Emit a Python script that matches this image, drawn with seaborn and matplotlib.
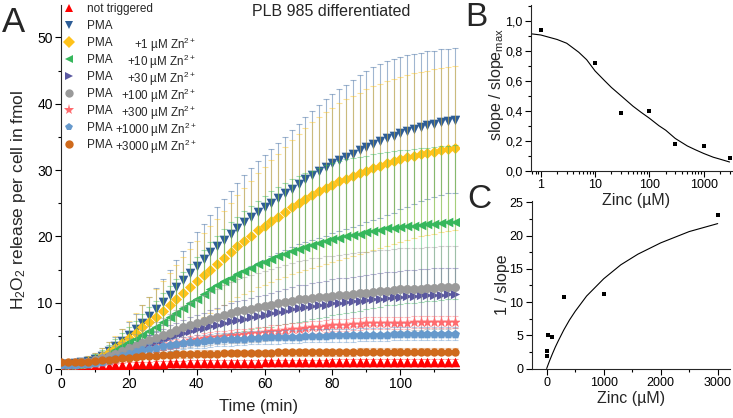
import numpy as np
import pandas as pd
import matplotlib
matplotlib.use("Agg")
import matplotlib.pyplot as plt
import seaborn as sns
from matplotlib.lines import Line2D
from matplotlib.ticker import MultipleLocator, FixedLocator, FuncFormatter, NullFormatter, LogLocator

# ---------------- panel A: H2O2 release per cell (fmol), read every 2 min ----------------
time_min = np.arange(0, 117, 2)

not_trig = [0.30, 0.30, 0.30, 0.32, 0.35, 0.40, 0.45, 0.50, 0.55, 0.60,
            0.65, 0.70, 0.74, 0.77, 0.80, 0.82, 0.84, 0.86, 0.88, 0.90,
            0.91, 0.92, 0.93, 0.94, 0.95, 0.96, 0.97, 0.97, 0.98, 0.98,
            0.99, 0.99, 1.00, 1.00, 1.01, 1.01, 1.02, 1.02, 1.03, 1.03,
            1.04, 1.04, 1.05, 1.05, 1.05, 1.06, 1.06, 1.06, 1.07, 1.07,
            1.07, 1.08, 1.08, 1.08, 1.09, 1.09, 1.09, 1.10, 1.10]
not_trig_err = [0.30, 0.30, 0.30, 0.30, 0.30, 0.30, 0.30, 0.30, 0.30, 0.35,
                0.35, 0.35, 0.35, 0.35, 0.40, 0.40, 0.40, 0.40, 0.40, 0.40,
                0.40, 0.40, 0.40, 0.40, 0.40, 0.40, 0.40, 0.40, 0.40, 0.40,
                0.40, 0.40, 0.40, 0.40, 0.40, 0.40, 0.40, 0.40, 0.40, 0.40,
                0.40, 0.40, 0.40, 0.40, 0.40, 0.40, 0.40, 0.40, 0.40, 0.40,
                0.40, 0.40, 0.40, 0.40, 0.40, 0.40, 0.40, 0.40, 0.40]

pma = [0.80, 0.80, 0.90, 1.00, 1.20, 1.50, 2.00, 2.70, 3.40, 4.20,
       5.10, 6.00, 7.00, 8.00, 9.00, 10.1, 11.2, 12.3, 13.4, 14.5,
       15.6, 16.6, 17.6, 18.6, 19.5, 20.4, 21.3, 22.1, 22.9, 23.7,
       24.4, 25.1, 25.8, 26.5, 27.2, 27.9, 28.6, 29.2, 29.8, 30.4,
       31.0, 31.5, 32.0, 32.5, 33.0, 33.5, 34.0, 34.4, 34.8, 35.2,
       35.6, 35.9, 36.2, 36.5, 36.8, 37.0, 37.2, 37.4, 37.5]
pma_err = [0.6, 0.6, 0.6, 0.7, 0.8, 0.9, 1.1, 1.3, 1.5, 1.8,
           2.0, 2.3, 2.6, 2.9, 3.2, 3.5, 3.8, 4.1, 4.4, 4.7,
           5.0, 5.3, 5.6, 5.9, 6.2, 6.5, 6.8, 7.1, 7.4, 7.7,
           7.9, 8.1, 8.3, 8.5, 8.8, 9.1, 9.4, 9.7, 10.0, 10.3,
           10.5, 10.7, 10.9, 11.1, 11.3, 11.4, 11.5, 11.6, 11.6, 11.6,
           11.5, 11.4, 11.3, 11.2, 11.1, 11.0, 11.0, 10.9, 10.9]

zn1 = [0.70, 0.70, 0.80, 0.90, 1.10, 1.40, 1.90, 2.50, 3.20, 3.90,
       4.70, 5.50, 6.30, 7.10, 7.90, 8.80, 9.70, 10.6, 11.5, 12.4,
       13.3, 14.2, 15.0, 15.8, 16.7, 17.6, 18.5, 19.3, 20.1, 20.9,
       21.6, 22.3, 23.0, 23.7, 24.4, 25.0, 25.6, 26.2, 26.8, 27.3,
       27.8, 28.3, 28.7, 29.1, 29.5, 29.9, 30.3, 30.6, 31.0, 31.3,
       31.6, 31.9, 32.2, 32.4, 32.6, 32.8, 33.0, 33.2, 33.3]
zn1_err = [0.5, 0.5, 0.6, 0.7, 0.8, 1.0, 1.2, 1.5, 1.8, 2.2,
           2.6, 3.0, 3.4, 3.8, 4.2, 4.5, 4.8, 5.1, 5.4, 5.7,
           6.0, 6.3, 6.6, 6.8, 7.1, 7.4, 7.7, 8.0, 8.3, 8.6,
           8.9, 9.2, 9.5, 9.8, 10.1, 10.4, 10.7, 11.0, 11.2, 11.4,
           11.6, 11.8, 12.0, 12.1, 12.2, 12.3, 12.4, 12.4, 12.4, 12.4,
           12.4, 12.4, 12.4, 12.4, 12.4, 12.4, 12.4, 12.4, 12.4]

zn10 = [0.60, 0.60, 0.70, 0.80, 1.00, 1.30, 1.70, 2.20, 2.80, 3.40,
        4.00, 4.60, 5.20, 5.80, 6.40, 7.10, 7.80, 8.50, 9.20, 9.90,
        10.6, 11.3, 12.0, 12.6, 13.2, 13.8, 14.3, 14.8, 15.3, 15.8,
        16.2, 16.6, 17.0, 17.4, 17.8, 18.1, 18.4, 18.7, 19.0, 19.3,
        19.6, 19.8, 20.0, 20.2, 20.4, 20.6, 20.8, 21.0, 21.2, 21.3,
        21.4, 21.5, 21.6, 21.7, 21.8, 21.9, 22.0, 22.1, 22.2]
zn10_err = [0.4, 0.4, 0.5, 0.6, 0.7, 0.9, 1.1, 1.4, 1.7, 2.0,
            2.3, 2.7, 3.1, 3.5, 3.9, 4.3, 4.7, 5.1, 5.5, 5.9,
            6.3, 6.7, 7.1, 7.5, 7.9, 8.3, 8.7, 9.0, 9.3, 9.6,
            9.9, 10.2, 10.4, 10.6, 10.8, 11.0, 11.1, 11.2, 11.3, 11.4,
            11.5, 11.5, 11.6, 11.6, 11.6, 11.6, 11.6, 11.6, 11.6, 11.6,
            11.6, 11.6, 11.6, 11.6, 11.6, 11.6, 11.6, 11.6, 11.6]

zn30 = [0.80, 0.80, 0.80, 0.90, 1.00, 1.20, 1.40, 1.70, 2.00, 2.30,
        2.70, 3.00, 3.40, 3.70, 4.10, 4.40, 4.80, 5.10, 5.40, 5.70,
        6.00, 6.20, 6.50, 6.70, 7.00, 7.20, 7.40, 7.60, 7.80, 8.00,
        8.20, 8.40, 8.60, 8.80, 9.00, 9.20, 9.30, 9.50, 9.60, 9.70,
        9.90, 10.0, 10.1, 10.2, 10.3, 10.4, 10.5, 10.6, 10.7, 10.8,
        10.9, 11.0, 11.0, 11.1, 11.1, 11.2, 11.2, 11.3, 11.3]
zn30_err = [0.3, 0.3, 0.3, 0.3, 0.4, 0.4, 0.5, 0.6, 0.7, 0.8,
            1.0, 1.1, 1.2, 1.4, 1.5, 1.6, 1.8, 1.9, 2.0, 2.1,
            2.2, 2.3, 2.4, 2.5, 2.6, 2.7, 2.8, 2.8, 2.9, 3.0,
            3.0, 3.1, 3.2, 3.3, 3.3, 3.4, 3.4, 3.5, 3.5, 3.6,
            3.6, 3.7, 3.7, 3.7, 3.8, 3.8, 3.8, 3.9, 3.9, 3.9,
            3.9, 4.0, 4.0, 4.0, 4.0, 4.0, 4.0, 4.0, 4.0]

zn100 = [0.90, 0.90, 0.90, 1.00, 1.10, 1.30, 1.60, 1.90, 2.30, 2.70,
         3.10, 3.50, 3.90, 4.30, 4.70, 5.10, 5.50, 5.90, 6.30, 6.70,
         7.00, 7.30, 7.60, 7.90, 8.20, 8.50, 8.70, 8.90, 9.10, 9.30,
         9.50, 9.70, 9.90, 10.1, 10.3, 10.5, 10.6, 10.7, 10.8, 10.9,
         11.0, 11.1, 11.2, 11.3, 11.4, 11.5, 11.6, 11.7, 11.8, 11.9,
         12.0, 12.0, 12.1, 12.1, 12.2, 12.2, 12.3, 12.3, 12.4]
zn100_err = [0.5, 0.5, 0.5, 0.6, 0.6, 0.7, 0.9, 1.0, 1.2, 1.4,
             1.6, 1.8, 2.0, 2.2, 2.4, 2.6, 2.8, 3.0, 3.2, 3.4,
             3.6, 3.8, 4.0, 4.2, 4.4, 4.6, 4.8, 5.0, 5.1, 5.2,
             5.3, 5.4, 5.5, 5.6, 5.7, 5.8, 5.9, 6.0, 6.0, 6.1,
             6.1, 6.1, 6.2, 6.2, 6.2, 6.2, 6.2, 6.2, 6.2, 6.2,
             6.2, 6.2, 6.2, 6.2, 6.2, 6.2, 6.2, 6.2, 6.2]

zn300 = [0.70, 0.70, 0.70, 0.70, 0.80, 0.90, 1.00, 1.20, 1.40, 1.70,
         2.00, 2.30, 2.60, 2.90, 3.20, 3.50, 3.70, 3.90, 4.10, 4.30,
         4.50, 4.70, 4.80, 4.90, 5.00, 5.10, 5.20, 5.30, 5.40, 5.50,
         5.60, 5.70, 5.80, 5.90, 6.00, 6.10, 6.20, 6.30, 6.40, 6.50,
         6.60, 6.70, 6.70, 6.80, 6.80, 6.90, 6.90, 6.90, 7.00, 7.00,
         7.00, 7.00, 7.10, 7.10, 7.10, 7.10, 7.10, 7.10, 7.10]
zn300_err = [0.3, 0.3, 0.3, 0.3, 0.3, 0.3, 0.4, 0.4, 0.4, 0.5,
             0.5, 0.5, 0.6, 0.6, 0.6, 0.6, 0.7, 0.7, 0.7, 0.7,
             0.7, 0.8, 0.8, 0.8, 0.8, 0.8, 0.8, 0.8, 0.8, 0.8,
             0.8, 0.9, 0.9, 0.9, 0.9, 0.9, 0.9, 0.9, 0.9, 0.9,
             0.9, 0.9, 0.9, 0.9, 0.9, 0.9, 0.9, 0.9, 0.9, 0.9,
             0.9, 0.9, 0.9, 0.9, 0.9, 0.9, 0.9, 0.9, 0.9]

zn1000 = [0.60, 0.60, 0.60, 0.70, 0.80, 0.90, 1.10, 1.30, 1.60, 1.90,
          2.20, 2.50, 2.80, 3.00, 3.20, 3.40, 3.60, 3.80, 3.90, 4.00,
          4.10, 4.20, 4.30, 4.40, 4.50, 4.50, 4.60, 4.60, 4.70, 4.70,
          4.80, 4.80, 4.80, 4.90, 4.90, 4.90, 5.00, 5.00, 5.00, 5.00,
          5.10, 5.10, 5.10, 5.10, 5.20, 5.20, 5.20, 5.20, 5.20, 5.30,
          5.30, 5.30, 5.30, 5.30, 5.30, 5.30, 5.30, 5.30, 5.30]
zn1000_err = [0.3, 0.3, 0.3, 0.3, 0.3, 0.4, 0.4, 0.5, 0.5, 0.6,
              0.6, 0.7, 0.7, 0.8, 0.8, 0.8, 0.9, 0.9, 0.9, 0.9,
              1.0, 1.0, 1.0, 1.0, 1.0, 1.0, 1.0, 1.0, 1.0, 1.0,
              1.0, 1.0, 1.0, 1.0, 1.0, 1.0, 1.0, 1.0, 1.0, 1.0,
              1.0, 1.0, 1.0, 1.0, 1.0, 1.0, 1.0, 1.0, 1.0, 1.0,
              1.0, 1.0, 1.0, 1.0, 1.0, 1.0, 1.0, 1.0, 1.0]

zn3000 = [1.00, 1.00, 1.00, 1.00, 1.10, 1.20, 1.30, 1.40, 1.50, 1.60,
          1.70, 1.80, 1.90, 2.00, 2.00, 2.10, 2.10, 2.20, 2.20, 2.20,
          2.30, 2.30, 2.30, 2.30, 2.40, 2.40, 2.40, 2.40, 2.40, 2.40,
          2.40, 2.40, 2.50, 2.50, 2.50, 2.50, 2.50, 2.50, 2.50, 2.50,
          2.50, 2.50, 2.50, 2.50, 2.60, 2.60, 2.60, 2.60, 2.60, 2.60,
          2.60, 2.60, 2.60, 2.60, 2.60, 2.60, 2.60, 2.60, 2.60]
zn3000_err = [0.4, 0.4, 0.4, 0.4, 0.4, 0.4, 0.4, 0.4, 0.4, 0.4,
              0.4, 0.4, 0.4, 0.4, 0.5, 0.5, 0.5, 0.5, 0.5, 0.5,
              0.5, 0.5, 0.5, 0.5, 0.5, 0.5, 0.5, 0.5, 0.5, 0.5,
              0.5, 0.5, 0.5, 0.5, 0.5, 0.5, 0.5, 0.5, 0.5, 0.5,
              0.5, 0.5, 0.5, 0.5, 0.5, 0.5, 0.5, 0.5, 0.5, 0.5,
              0.5, 0.5, 0.5, 0.5, 0.5, 0.5, 0.5, 0.5, 0.5]

legend_names = ["not triggered", "PMA", "PMA", "PMA", "PMA", "PMA", "PMA", "PMA", "PMA"]
zinc_added = ["+1", "+10", "+30", "+100", "+300", "+1000", "+3000"]

# ---------------- panels B and C ----------------
zinc_um = [1, 10, 30, 100, 300, 1000, 3000]
rel_slope = [0.94, 0.72, 0.385, 0.395, 0.177, 0.165, 0.082]
inv_slope = [1.95, 2.6, 5.0, 4.8, 10.7, 11.2, 23.1]

fit_b_x = [0.66, 1, 2, 3, 5, 7, 10, 15, 20, 30, 50, 70, 100, 150, 200, 300, 500, 700, 1000, 1500, 2000, 3000]
fit_b_y = [0.913, 0.905, 0.875, 0.85, 0.79, 0.74, 0.665, 0.60, 0.555, 0.50, 0.43, 0.39, 0.35, 0.30, 0.27,
           0.215, 0.165, 0.14, 0.115, 0.09, 0.077, 0.058]
fit_c_x = [0, 25, 50, 100, 150, 200, 300, 400, 500, 700, 1000, 1300, 1600, 2000, 2500, 3000]
fit_c_y = [0, 0.58, 1.15, 2.2, 3.2, 4.1, 5.8, 7.3, 8.6, 10.9, 13.5, 15.6, 17.2, 18.9, 20.6, 21.8]

# ---------------- style ----------------
sns.set_theme(style="ticks")
plt.rcParams["font.family"] = ["Liberation Sans", "DejaVu Sans"]
plt.rcParams["mathtext.fontset"] = "custom"
plt.rcParams["mathtext.rm"] = "Liberation Sans"
plt.rcParams["mathtext.it"] = "Liberation Sans:italic"
plt.rcParams["mathtext.default"] = "regular"
plt.rcParams["axes.linewidth"] = 0.8
for k in ("xtick", "ytick"):
    plt.rcParams[k + ".direction"] = "out"
    plt.rcParams[k + ".major.size"] = 4
    plt.rcParams[k + ".minor.size"] = 2
    plt.rcParams[k + ".major.width"] = 0.8
    plt.rcParams[k + ".minor.width"] = 0.8
    plt.rcParams[k + ".color"] = "black"
    plt.rcParams[k + ".major.pad"] = 2

W, H = 733, 418
fig = plt.figure(figsize=(W / 100, H / 100), dpi=100)


def box(l, t, r, b):
    return [l / W, 1 - b / H, (r - l) / W, (b - t) / H]


series = [
    (not_trig, not_trig_err, "#ff0000", "^", 48),
    (pma, pma_err, "#2d5d97", "v", 48),
    (zn1, zn1_err, "#ffc21a", "D", 32),
    (zn10, zn10_err, "#36b75c", "<", 48),
    (zn30, zn30_err, "#5a58a0", ">", 44),
    (zn100, zn100_err, "#9a9a9a", "o", 42),
    (zn300, zn300_err, "#ff6b6e", "*", 70),
    (zn1000, zn1000_err, "#6699cc", "p", 46),
    (zn3000, zn3000_err, "#cf6a1c", "o", 36),
]

# ---------- panel A ----------
axA = fig.add_axes(box(61, 5, 459, 369))
for i, (vals, err, col, mk, sz) in enumerate(series):
    df = pd.DataFrame({"t": time_min, "v": vals})
    axA.errorbar(time_min, vals, yerr=err, fmt="none", ecolor=col, alpha=0.45,
                 elinewidth=0.8, capsize=2.5, capthick=0.8, zorder=2 + 2 * i)
    sns.scatterplot(data=df, x="t", y="v", color=col, marker=mk, s=sz, linewidth=0,
                    ax=axA, zorder=3 + 2 * i, legend=False)

axA.set_xlim(0, 117.3)
axA.set_ylim(0, 54.9)
axA.xaxis.set_major_locator(MultipleLocator(20))
axA.xaxis.set_minor_locator(MultipleLocator(10))
axA.yaxis.set_major_locator(MultipleLocator(10))
axA.yaxis.set_minor_locator(MultipleLocator(5))
axA.tick_params(labelsize=10)
axA.set_xlabel("")
axA.set_ylabel("")
sns.despine(ax=axA)
fig.text(259 / W, 1 - 407 / H, "Time (min)", ha="center", va="center", fontsize=12)
fig.text(19 / W, 1 - 200 / H, "H$_2$O$_2$ release per cell in fmol", ha="center", va="center",
         rotation=90, fontsize=12.5)
fig.text(331 / W, 1 - 12 / H, "PLB 985 differentiated", ha="center", va="center", fontsize=11.5)

handles = [Line2D([], [], linestyle="none", marker=mk, color=col, markersize=6 if mk != "*" else 8,
                  markeredgewidth=0) for (_, _, col, mk, _) in series]
leg = axA.legend(handles, legend_names, loc="upper left", bbox_to_anchor=(63 / W, 1 - 3 / H),
                 bbox_transform=fig.transFigure, frameon=False, fontsize=8.5, borderpad=0,
                 borderaxespad=0, handlelength=1.0, handletextpad=1.0, labelspacing=0.42)
fig.canvas.draw()
inv = fig.transFigure.inverted()
for txt, z in zip(leg.get_texts()[2:], zinc_added):
    bb = txt.get_window_extent()
    y0 = inv.transform((0, bb.y0))[1]
    fig.text(196 / W, y0, z + " µM Zn$^{2+}$", ha="right", va="baseline", fontsize=8.4)

# ---------- panel B ----------
axB = fig.add_axes(box(531, 5, 733, 170.7))
sns.lineplot(x=fit_b_x, y=fit_b_y, color="black", linewidth=0.8, ax=axB)
sns.scatterplot(x=zinc_um, y=rel_slope, color="black", marker="s", s=9, linewidth=0, ax=axB, zorder=5)
axB.set_xscale("log")
axB.set_xlim(0.66, 3470)
axB.set_ylim(0, 1.105)
axB.xaxis.set_major_locator(FixedLocator([1, 10, 100, 1000]))
axB.xaxis.set_minor_locator(LogLocator(base=10, subs=np.arange(2, 10)))
axB.xaxis.set_minor_formatter(NullFormatter())
axB.xaxis.set_major_formatter(FuncFormatter(lambda v, p: f"{v:g}"))
axB.yaxis.set_major_locator(MultipleLocator(0.2))
axB.yaxis.set_minor_locator(MultipleLocator(0.1))
axB.yaxis.set_major_formatter(FuncFormatter(lambda v, p: f"{v:.1f}".replace(".", ",")))
axB.tick_params(labelsize=9)
sns.despine(ax=axB)
fig.text(497 / W, 1 - 85 / H, "slope / slope$_{max}$", ha="center", va="center", rotation=90, fontsize=11.5)
fig.text(636 / W, 1 - 200 / H, "Zinc (µM)", ha="center", va="center", fontsize=11.5)

# ---------- panel C ----------
axC = fig.add_axes(box(531.7, 201, 730, 368.5))
sns.lineplot(x=fit_c_x, y=fit_c_y, color="black", linewidth=0.8, ax=axC)
sns.scatterplot(x=zinc_um, y=inv_slope, color="black", marker="s", s=9, linewidth=0, ax=axC, zorder=5)
axC.set_xlim(-263, 3216)
axC.set_ylim(0, 25.2)
axC.xaxis.set_major_locator(MultipleLocator(1000))
axC.xaxis.set_minor_locator(MultipleLocator(500))
axC.yaxis.set_major_locator(MultipleLocator(5))
axC.yaxis.set_minor_locator(MultipleLocator(2.5))
axC.tick_params(labelsize=9)
sns.despine(ax=axC)
fig.text(502 / W, 1 - 285 / H, "1 / slope", ha="center", va="center", rotation=90, fontsize=11.5)
fig.text(631 / W, 1 - 399 / H, "Zinc (µM)", ha="center", va="center", fontsize=11.5)

# panel letters
fig.text(13 / W, 1 - 22 / H, "A", ha="center", va="center", fontsize=25)
fig.text(476 / W, 1 - 17 / H, "B", ha="center", va="center", fontsize=24)
fig.text(479 / W, 1 - 199 / H, "C", ha="center", va="center", fontsize=24)

fig.savefig("out.png", dpi=100)
